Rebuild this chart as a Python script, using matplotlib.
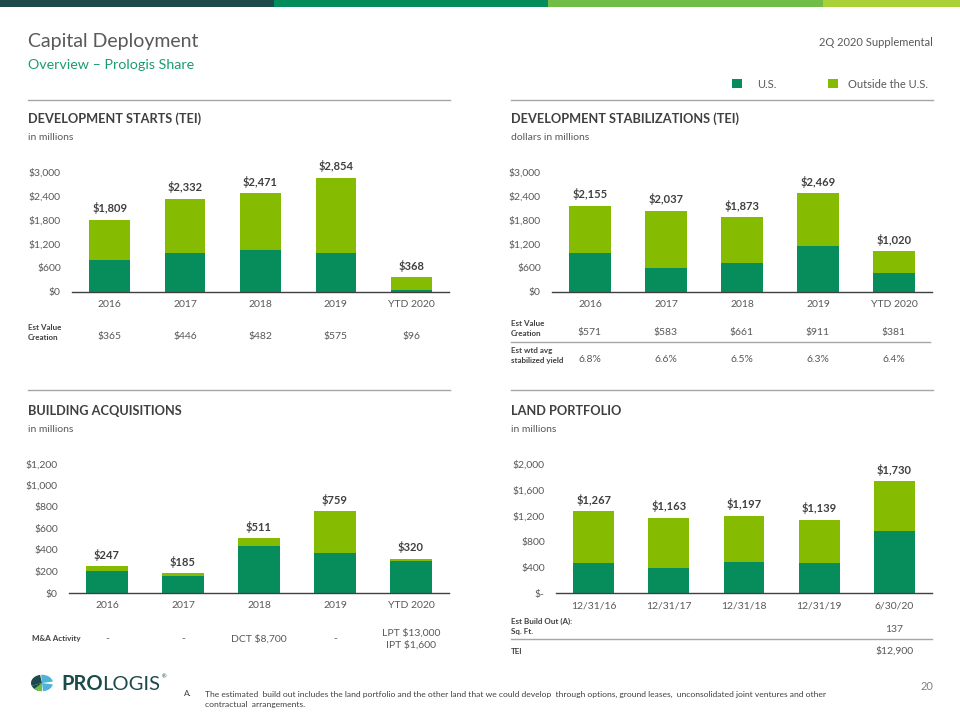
import matplotlib.pyplot as plt
import matplotlib.transforms as mtransforms
from matplotlib.patches import Rectangle, Wedge
import numpy as np

plt.rcParams['font.family'] = ['Lato', 'DejaVu Sans']

# data
starts_cat = ['2016', '2017', '2018', '2019', 'YTD 2020']
starts_total = [1809, 2332, 2471, 2854, 368]
starts_us = [800, 980, 1050, 980, 50]
starts_value = ['$365', '$446', '$482', '$575', '$96']

stab_cat = ['2016', '2017', '2018', '2019', 'YTD 2020']
stab_total = [2155, 2037, 1873, 2469, 1020]
stab_us = [980, 600, 725, 1150, 475]
stab_value = ['$571', '$583', '$661', '$911', '$381']
stab_yield = ['6.8%', '6.6%', '6.5%', '6.3%', '6.4%']

acq_cat = ['2016', '2017', '2018', '2019', 'YTD 2020']
acq_total = [247, 185, 511, 759, 320]
acq_us = [202, 160, 435, 370, 295]
ma_activity = ['-', '-', 'DCT $8,700', '-', 'LPT $13,000\nIPT $1,600']

land_cat = ['12/31/16', '12/31/17', '12/31/18', '12/31/19', '6/30/20']
land_total = [1267, 1163, 1197, 1139, 1730]
land_us = [460, 385, 475, 460, 960]
land_sqft = ['', '', '', '', '137']
land_tei = ['', '', '', '', '$12,900']

US_COLOR = '#078c5c'
OUT_COLOR = '#85bb00'
GREY = '#595959'
DARK = '#404040'

W, H = 960, 720
fig = plt.figure(figsize=(9.6, 7.2), dpi=100)


def fx(x):
    return x / W


def fy(y):
    return 1 - y / H


def ftext(x, y, s, **kw):
    return fig.text(fx(x), fy(y), s, **kw)


def hline(x0, x1, y, color='#a6a6a6', lw=1.0):
    fig.add_artist(plt.Line2D([fx(x0), fx(x1)], [fy(y), fy(y)], color=color, lw=lw,
                              transform=fig.transFigure))


# top stripe
for x0, x1, c in [(0, 274, '#1d4a4a'), (274, 548, '#038c5c'),
                  (548, 823, '#72bd45'), (823, 960, '#a8d238')]:
    fig.add_artist(Rectangle((fx(x0), fy(7)), fx(x1 - x0), 7 / H, color=c,
                             transform=fig.transFigure, lw=0))

ftext(28, 41, 'Capital Deployment', fontsize=14, color=GREY, va='center')
ftext(28, 65, 'Overview \u2013 Prologis Share', fontsize=10.3, color='#1a9c72', va='center')
ftext(933, 43, '2Q 2020 Supplemental', fontsize=8, color=GREY, va='center', ha='right')

# legend
fig.add_artist(Rectangle((fx(732), fy(88)), 10 / W, 9 / H, color=US_COLOR,
                         transform=fig.transFigure, lw=0))
ftext(757, 84, 'U.S.', fontsize=8, color=GREY, va='center')
fig.add_artist(Rectangle((fx(828), fy(88)), 10 / W, 9 / H, color=OUT_COLOR,
                         transform=fig.transFigure, lw=0))
ftext(848, 84, 'Outside the U.S.', fontsize=8, color=GREY, va='center')

hline(28, 450, 100)
hline(511, 933, 100)
hline(28, 450, 390)
hline(511, 933, 390)


def money(v):
    return '${:,.0f}'.format(v)


def stacked(box, cats, us, total, ymax, step, zero_label='$0'):
    x0, x1, ytop, ybot = box
    ax = fig.add_axes([fx(x0), fy(ybot), fx(x1 - x0), (ybot - ytop) / H])
    us = np.array(us)
    total = np.array(total)
    x = np.arange(len(cats))
    ax.bar(x, us, width=0.54, color=US_COLOR, lw=0)
    ax.bar(x, total - us, bottom=us, width=0.54, color=OUT_COLOR, lw=0)
    for xi, t in zip(x, total):
        ax.annotate(money(t), (xi, t), xytext=(0, 4), textcoords='offset points',
                    ha='center', va='bottom', fontsize=8, fontweight='bold',
                    color=DARK, annotation_clip=False)
    ax.set_xlim(-0.5, len(cats) - 0.5)
    ax.set_ylim(0, ymax)
    ticks = np.arange(0, ymax + 1, step)
    ax.set_yticks(ticks)
    ax.set_yticklabels([zero_label if t == 0 else money(t) for t in ticks])
    ax.set_xticks(x)
    ax.set_xticklabels(cats)
    for s in ['top', 'right', 'left']:
        ax.spines[s].set_visible(False)
    ax.spines['bottom'].set_color(DARK)
    ax.spines['bottom'].set_linewidth(1.0)
    ax.tick_params(axis='both', length=0, labelsize=7.5, labelcolor=GREY)
    ax.tick_params(axis='y', pad=8)
    ax.tick_params(axis='x', pad=6)
    return ax


def row(ax, y, values, **kw):
    tr = mtransforms.blended_transform_factory(ax.transData, fig.transFigure)
    for i, v in enumerate(values):
        ax.text(i, fy(y), v, transform=tr, ha='center', va='center', fontsize=7.5,
                color=GREY, **kw)


def label(x, y, s):
    ftext(x, y, s, fontsize=5.8, fontweight='bold', color=DARK, va='center',
          linespacing=1.5)


# development starts
ftext(28, 119, 'DEVELOPMENT STARTS (TEI)', fontsize=9.2, fontweight='bold', color=DARK, va='center')
ftext(28, 138, 'in millions', fontsize=7.5, color=GREY, va='center')
ax1 = stacked((72, 449, 172, 292), starts_cat, starts_us, starts_total, 3000, 600)
label(28, 332, 'Est Value\nCreation')
row(ax1, 337, starts_value)

# development stabilizations
ftext(511, 119, 'DEVELOPMENT STABILIZATIONS (TEI)', fontsize=9.2, fontweight='bold', color=DARK, va='center')
ftext(511, 138, 'dollars in millions', fontsize=7.5, color=GREY, va='center')
ax2 = stacked((552, 932, 172, 292), stab_cat, stab_us, stab_total, 3000, 600)
label(511, 329, 'Est Value\nCreation')
row(ax2, 333, stab_value)
hline(511, 930, 342)
label(511, 356, 'Est wtd avg\nstabilized yield')
row(ax2, 360, stab_yield)

# building acquisitions
ftext(28, 411, 'BUILDING ACQUISITIONS', fontsize=9.2, fontweight='bold', color=DARK, va='center')
ftext(28, 430, 'in millions', fontsize=7.5, color=GREY, va='center')
ax3 = stacked((69, 449, 464, 593), acq_cat, acq_us, acq_total, 1200, 200)
label(32, 639, 'M&A Activity')
row(ax3, 639, ma_activity, linespacing=1.3)

# land portfolio
ftext(511, 411, 'LAND PORTFOLIO', fontsize=9.2, fontweight='bold', color=DARK, va='center')
ftext(511, 430, 'in millions', fontsize=7.5, color=GREY, va='center')
ax4 = stacked((556, 932, 464, 593), land_cat, land_us, land_total, 2000, 400, zero_label='$-')
label(511, 626, 'Est Build Out (A):\nSq. Ft.')
row(ax4, 630, land_sqft)
hline(511, 932, 639)
label(511, 651, 'TEI')
row(ax4, 651, land_tei)

# footer logo
cx, cy, r = 42, 683, 11
for t1, t2, c in [(100, 200, '#1d4a4a'), (200, 250, '#1d4a4a'), (10, 95, '#4fb3d9'),
                  (275, 350, '#4fb3d9'), (225, 270, '#72bd45')]:
    fig.add_artist(Wedge((fx(cx), fy(cy)), r / W, t1, t2, color=c, lw=0,
                         transform=fig.transFigure))
pro = ftext(61, 684, 'PRO', fontsize=14.5, fontweight='bold', color='#1d4a4a', va='center')
renderer = fig.canvas.get_renderer()
pro_end = pro.get_window_extent(renderer).x1
logis = fig.text(pro_end / W, fy(684), 'LOGIS', fontsize=14.5, color='#1d4a4a', va='center')
logis_end = logis.get_window_extent(renderer).x1
fig.text(logis_end / W + 0.001, fy(677), '\u00ae', fontsize=4, color='#1d4a4a', va='center')

ftext(184, 694, 'A.', fontsize=6, color=DARK, va='center')
ftext(205, 694, 'The estimated  build out includes the land portfolio and the other land that we could '
      'develop  through options, ground leases,  unconsolidated joint ventures and other',
      fontsize=6.1, color=DARK, va='center')
ftext(205, 705, 'contractual  arrangements.', fontsize=6.1, color=DARK, va='center')
ftext(933, 687, '20', fontsize=8, color='#7f7f7f', va='center', ha='right')

fig.savefig('out.png', dpi=100)
